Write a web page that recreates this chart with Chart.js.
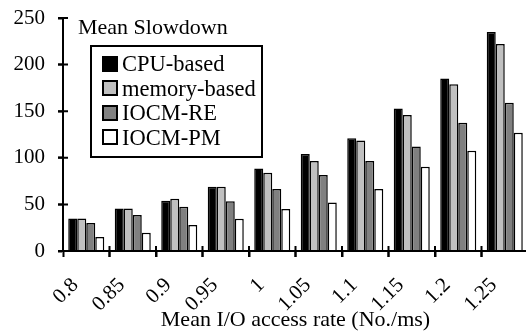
<!DOCTYPE html>
<html>
<head>
<meta charset="utf-8">
<script src="https://cdn.jsdelivr.net/npm/chart.js@4"></script>
<style>
  html, body { margin: 0; padding: 0; background: #fff; overflow: hidden; }
  #wrap { position: relative; width: 526px; height: 333px; overflow: hidden; }
  #chart { position: absolute; left: 0; top: 0; }
  .txt { font-family: "Liberation Serif", "Times New Roman", serif; color: #000; }
  #ytitle { position: absolute; left: 78px; top: 14px; white-space: nowrap; font-size: 22px; }
  #legend { position: absolute; left: 90px; top: 45px; width: 169px; height: 109px;
            border: 2px solid #000; background: #fff; font-size: 22.5px; }
  .item { position: absolute; left: 10px; height: 24px; line-height: 24px; white-space: nowrap; }
  .box { display: inline-block; width: 12px; height: 12px; border: 2px solid #000;
         vertical-align: middle; margin-right: 4px; position: relative; top: -2px; }
</style>
</head>
<body>
<div id="wrap">
  <canvas id="chart" width="528" height="333"></canvas>
  <div id="ytitle" class="txt">Mean Slowdown</div>
  <div id="legend" class="txt"></div>
</div>
<script>
// 데이터
const categories = ['0.8', '0.85', '0.9', '0.95', '1', '1.05', '1.1', '1.15', '1.2', '1.25'];
const seriesNames = ['CPU-based', 'memory-based', 'IOCM-RE', 'IOCM-PM'];
const cpuBased    = [35, 45.5, 54, 69, 88.5, 104, 121, 153, 185, 235];
const memoryBased = [35, 45.5, 56, 69, 84, 96.5, 118.5, 146, 179, 222];
const iocmRE      = [30, 38.5, 47.5, 53.5, 66.5, 81.5, 96.5, 112, 137.5, 159];
const iocmPM      = [15, 19.5, 28, 34.5, 45, 52, 66.5, 90.5, 107.5, 127];
const yTicks = [0, 50, 100, 150, 200, 250];

const fills = ['#000000', '#c0c0c0', '#808080', '#ffffff'];
const FAMILY = '"Liberation Serif", "Times New Roman", serif';
Chart.defaults.font.family = FAMILY;
Chart.defaults.font.size = 21;
Chart.defaults.color = '#000';

// 범례 (HTML)
const legendEl = document.getElementById('legend');
seriesNames.forEach((name, i) => {
  const row = document.createElement('div');
  row.className = 'item';
  row.style.top = (5 + i * 24.5) + 'px';
  row.innerHTML = `<span class="box" style="background:${fills[i]}"></span>${name}`;
  legendEl.appendChild(row);
});

// 축 선 + 축을 가로지르는 눈금
const axisTicks = {
  id: 'axisTicks',
  afterDraw(chart) {
    const ctx = chart.ctx;
    const ys = chart.scales.y;
    const { left, right } = chart.chartArea;
    const top = ys.getPixelForValue(250), base = ys.getPixelForValue(0);
    ctx.save();
    ctx.strokeStyle = '#000000';
    ctx.lineWidth = 2;
    ctx.beginPath();
    ctx.moveTo(left, top);
    ctx.lineTo(left, base);
    ctx.lineTo(right, base);
    yTicks.forEach(v => {
      const py = ys.getPixelForValue(v);
      ctx.moveTo(left - 5, py);
      ctx.lineTo(left + 5, py);
    });
    for (let i = 1; i < categories.length; i++) {
      const px = left + (right - left) * i / categories.length;
      ctx.moveTo(px, base + 6);
      ctx.lineTo(px, base - 5);
    }
    ctx.stroke();
    ctx.restore();
  }
};

const datasets = [cpuBased, memoryBased, iocmRE, iocmPM].map((data, i) => ({
  label: seriesNames[i],
  data,
  backgroundColor: fills[i],
  borderColor: '#000',
  borderWidth: 1.5,
  borderSkipped: 'bottom',
  categoryPercentage: 0.775,
  barPercentage: 1.0
}));

new Chart(document.getElementById('chart'), {
  type: 'bar',
  data: { labels: categories, datasets },
  plugins: [axisTicks],
  options: {
    responsive: false,
    animation: false,
    layout: { padding: { top: 18, right: 0, left: 0, bottom: 0 } },
    plugins: { legend: { display: false }, tooltip: { enabled: false } },
    scales: {
      x: {
        offset: true,
        grid: { display: true, offset: true, drawOnChartArea: false, drawTicks: true,
                tickLength: 6, tickWidth: 2, tickColor: '#000' },
        border: { display: true, color: '#000', width: 2 },
        ticks: {
          font: { family: FAMILY, size: 21 },
          minRotation: 45,
          maxRotation: 45,
          autoSkip: false,
          padding: 16,
          labelOffset: -11
        },
        title: {
          display: true,
          text: 'Mean I/O access rate (No./ms)',
          font: { family: FAMILY, size: 22 },
          padding: { top: 0, bottom: 0 }
        },
        afterFit: s => { s.height = 82; s.paddingLeft = 0; s.paddingRight = 0; }
      },
      y: {
        min: 0,
        max: 250,
        grid: { display: true, drawOnChartArea: false, drawTicks: true,
                tickLength: 5, tickWidth: 2, tickColor: '#000' },
        border: { display: true, color: '#000', width: 2 },
        ticks: { stepSize: 50, font: { family: FAMILY, size: 21 }, padding: 13 },
        afterFit: s => { s.width = 63; s.paddingTop = 0; s.paddingBottom = 0; }
      }
    }
  }
});
</script>
</body>
</html>
